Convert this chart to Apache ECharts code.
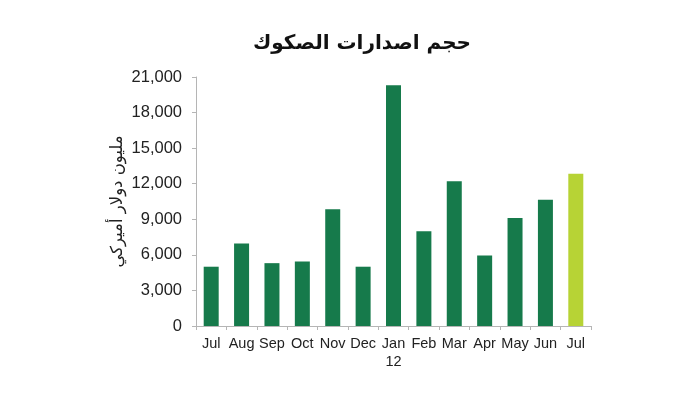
<!DOCTYPE html>
<html><head><meta charset="utf-8">
<script src="https://cdn.jsdelivr.net/npm/echarts@6/dist/echarts.min.js"></script>
<style>html,body{margin:0;padding:0;background:#fff}#c{width:700px;height:393px}</style>
</head><body><div id="c"></div>
<script>
var titleText = 'حجم اصدارات الصكوك';
var yAxisName = 'مليون دولار أميركي';
var categories = ['Jul','Aug','Sep','Oct','Nov','Dec','Jan\n12','Feb','Mar','Apr','May','Jun','Jul'];
var values = [5000,6950,5300,5450,9850,5000,20300,8000,12200,5950,9100,10650,12850];
var highlightIndex = 12;
var yTicks = [0,3000,6000,9000,12000,15000,18000,21000];

var dark = '#167a4b', light = '#b7d335';
var chart = echarts.init(document.getElementById('c'));
chart.setOption({
  animation:false,
  title:{text:titleText,left:357,top:29,textAlign:'center',
    textStyle:{fontFamily:'DejaVu Sans',fontWeight:'bold',fontSize:20,color:'#111'}},
  grid:{left:196,right:109,top:77,bottom:67},
  xAxis:{type:'category',data:categories,
    axisLine:{lineStyle:{color:'#b5b5b5'}},
    axisTick:{show:true,length:4,lineStyle:{color:'#b5b5b5'}},
    axisLabel:{color:'#222',fontSize:14.5,fontFamily:'Liberation Sans',margin:9,lineHeight:18,interval:0}},
  yAxis:{type:'value',min:0,max:21000,interval:3000,
    name:yAxisName,nameLocation:'middle',nameGap:70,nameRotate:90,nameMoveOverlap:false,
    nameTextStyle:{fontFamily:'DejaVu Sans',fontSize:16.5,color:'#222'},
    axisLine:{show:true,lineStyle:{color:'#b5b5b5'}},
    axisTick:{show:true,length:4,inside:false,lineStyle:{color:'#b5b5b5'}},
    splitLine:{show:false},
    axisLabel:{color:'#222',fontSize:16.5,fontFamily:'Liberation Sans',margin:14,
      formatter:function(v){return yTicks.indexOf(v)>=0?v.toLocaleString('en-US'):'';}}},
  series:[{type:'bar',barWidth:15,
    data:values.map(function(v,i){return {value:v,itemStyle:{color:i===highlightIndex?light:dark}};})}]
});
</script></body></html>
